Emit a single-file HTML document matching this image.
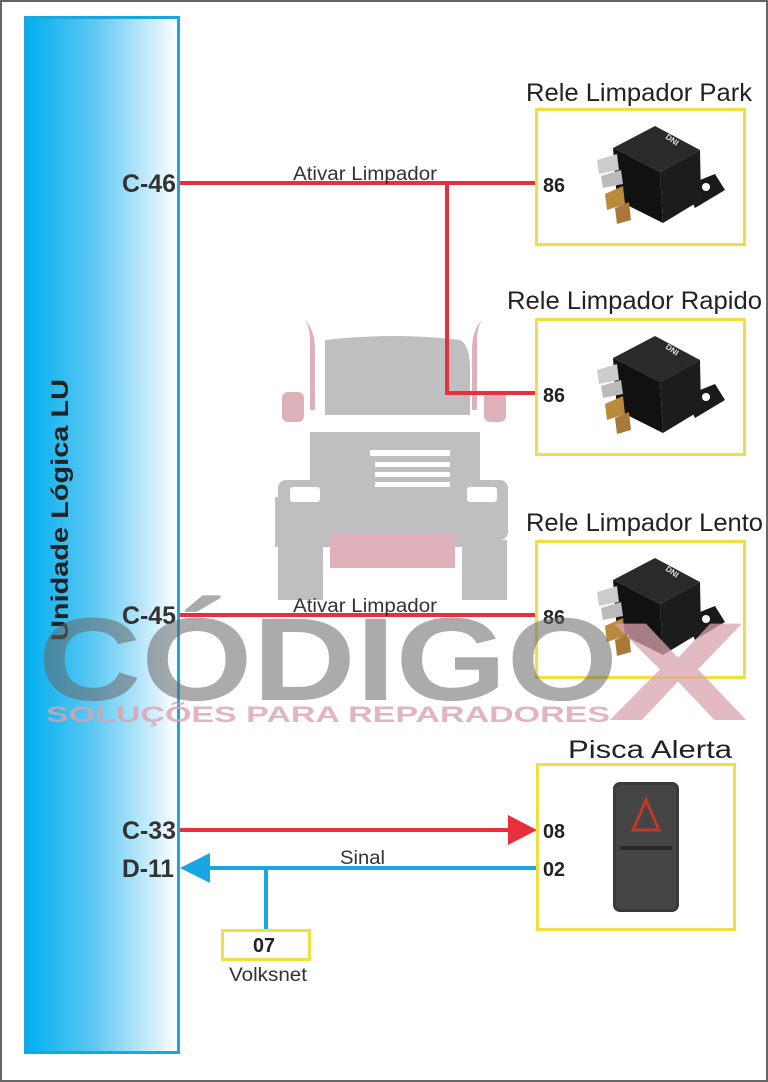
<!DOCTYPE html>
<html><head><meta charset="utf-8"><style>
html,body{margin:0;padding:0;background:#fff}
svg{display:block}
text{font-family:"Liberation Sans",sans-serif}
</style></head><body>
<svg width="768" height="1082" viewBox="0 0 768 1082" xmlns="http://www.w3.org/2000/svg">
<defs>
<linearGradient id="bg" x1="0" x2="1" y1="0" y2="0">
<stop offset="0" stop-color="#00aeef"/><stop offset="0.45" stop-color="#5ec8f2"/><stop offset="1" stop-color="#ffffff"/>
</linearGradient>
<g id="relay">
<polygon points="150,78 180,66 190,82 160,100" fill="#1a1a1a"/>
<circle cx="171" cy="79" r="4" fill="#fff"/>
<polygon points="78,40 120,18 165,42 125,64" fill="#2a2a2a"/>
<polygon points="78,40 125,64 128,115 82,92" fill="#111"/>
<polygon points="125,64 165,42 166,92 128,115" fill="#1c1c1c"/>
<polygon points="62,52 82,46 84,62 64,66" fill="#ccc"/>
<polygon points="66,68 86,62 88,76 68,80" fill="#bbb"/>
<polygon points="70,86 88,78 90,96 72,102" fill="#b98a3c"/>
<polygon points="80,100 94,94 96,112 82,116" fill="#a9783a"/>
<text x="130" y="30" font-size="8" fill="#ddd" font-weight="bold" transform="rotate(35 130 30)">DNI</text>
</g>
</defs>
<rect x="1" y="1" width="766" height="1080" fill="#fff" stroke="#666" stroke-width="2"/>

<g opacity="0.85">
<path d="M305 320 q10 10 10 30 v60 h-5 v-70 q0-12-5-20z" fill="#d9a3ad"/>
<path d="M482 320 q-10 10 -10 30 v60 h5 v-70 q0-12 5-20z" fill="#d9a3ad"/>
<rect x="282" y="392" width="22" height="30" rx="6" fill="#d9a3ad"/>
<rect x="484" y="392" width="22" height="30" rx="6" fill="#d9a3ad"/>
<path d="M325 340 q70 -8 135 0 q10 5 10 30 v45 h-145z" fill="#b4b4b8"/>
<path d="M310 432 h170 v65 h20 v50 h-225 v-50 h35z" fill="#b4b4b8"/>
<rect x="278" y="480" width="230" height="60" rx="8" fill="#b4b4b8"/>
<rect x="330" y="533" width="125" height="35" fill="#d9a3ad"/>
<rect x="278" y="540" width="45" height="60" fill="#b4b4b8"/>
<rect x="462" y="540" width="45" height="60" fill="#b4b4b8"/>
<rect x="370" y="450" width="80" height="6" fill="#fff"/>
<rect x="375" y="462" width="75" height="5" fill="#fff"/>
<rect x="375" y="472" width="75" height="5" fill="#fff"/>
<rect x="375" y="482" width="75" height="5" fill="#fff"/>
<rect x="290" y="487" width="30" height="15" rx="3" fill="#fff"/>
<rect x="467" y="487" width="30" height="15" rx="3" fill="#fff"/>
</g>

<rect x="25.5" y="17.5" width="153" height="1035" fill="url(#bg)" stroke="#1aa6e0" stroke-width="3"/>
<text transform="translate(68 510) rotate(-90)" text-anchor="middle" font-size="24" font-weight="bold" fill="#222" textLength="262" lengthAdjust="spacingAndGlyphs">Unidade Lógica LU</text>

<g stroke="#e8303a" stroke-width="4" fill="none">
<line x1="180" y1="183" x2="537" y2="183"/>
<polyline points="447,183 447,393 537,393"/>
<line x1="180" y1="615" x2="537" y2="615"/>
<line x1="180" y1="830" x2="512" y2="830"/>
</g>
<polygon points="537,830 508,815 508,845" fill="#e8303a"/>
<g stroke="#1aa6e0" stroke-width="4" fill="none">
<line x1="200" y1="868" x2="537" y2="868"/>
<line x1="266" y1="868" x2="266" y2="930"/>
</g>
<polygon points="180,868 210,853 210,883" fill="#1aa6e0"/>

<g font-size="25" font-weight="bold" fill="#333">
<text x="122" y="192" textLength="54" lengthAdjust="spacingAndGlyphs">C-46</text>
<text x="122" y="624" textLength="54" lengthAdjust="spacingAndGlyphs">C-45</text>
<text x="122" y="839" textLength="54" lengthAdjust="spacingAndGlyphs">C-33</text>
<text x="122" y="877" textLength="52" lengthAdjust="spacingAndGlyphs">D-11</text>
</g>
<g font-size="19" fill="#333">
<text x="293" y="180" textLength="144" lengthAdjust="spacingAndGlyphs">Ativar Limpador</text>
<text x="293" y="612" textLength="144" lengthAdjust="spacingAndGlyphs">Ativar Limpador</text>
<text x="340" y="864" textLength="45" lengthAdjust="spacingAndGlyphs">Sinal</text>
<text x="229" y="981" textLength="78" lengthAdjust="spacingAndGlyphs">Volksnet</text>
</g>

<g fill="none" stroke="#efe040" stroke-width="3">
<rect x="536.5" y="109.5" width="208" height="135"/>
<rect x="536.5" y="319.5" width="208" height="135"/>
<rect x="536.5" y="541.5" width="208" height="136"/>
<rect x="537.5" y="764.5" width="197" height="165"/>
<rect x="222.5" y="930.5" width="87" height="29"/>
</g>
<g font-size="25" fill="#222">
<text x="526" y="101" textLength="226" lengthAdjust="spacingAndGlyphs">Rele Limpador Park</text>
<text x="507" y="309" textLength="255" lengthAdjust="spacingAndGlyphs">Rele Limpador Rapido</text>
<text x="526" y="531" textLength="237" lengthAdjust="spacingAndGlyphs">Rele Limpador Lento</text>
<text x="568" y="758" textLength="164" lengthAdjust="spacingAndGlyphs">Pisca Alerta</text>
</g>
<g font-size="20" font-weight="bold" fill="#222">
<text x="543" y="192" textLength="22" lengthAdjust="spacingAndGlyphs">86</text>
<text x="543" y="402" textLength="22" lengthAdjust="spacingAndGlyphs">86</text>
<text x="543" y="624" textLength="22" lengthAdjust="spacingAndGlyphs">86</text>
<text x="543" y="838" textLength="22" lengthAdjust="spacingAndGlyphs">08</text>
<text x="543" y="876" textLength="22" lengthAdjust="spacingAndGlyphs">02</text>
<text x="253" y="952" textLength="22" lengthAdjust="spacingAndGlyphs">07</text>
</g>

<use href="#relay" x="535" y="108"/>
<use href="#relay" x="535" y="318"/>
<use href="#relay" x="535" y="540"/>

<rect x="613" y="782" width="66" height="130" rx="7" fill="#3a3a3a"/>
<rect x="616" y="785" width="60" height="124" rx="5" fill="#454545"/>
<polygon points="633,830 646,800 659,830" fill="none" stroke="#c0392b" stroke-width="3"/>
<rect x="620" y="846" width="52" height="4" fill="#2a2a2a"/>

<text x="38" y="700" font-size="118" font-weight="bold" fill="#666" fill-opacity="0.55" textLength="580" lengthAdjust="spacingAndGlyphs">CÓDIGO</text>
<text x="608" y="720" font-size="140" font-weight="bold" fill="#d9a3ad" fill-opacity="0.75" textLength="140" lengthAdjust="spacingAndGlyphs">X</text>
<text x="46" y="722" font-size="22" font-weight="bold" fill="#d9a3ad" fill-opacity="0.8" textLength="564" lengthAdjust="spacingAndGlyphs">SOLUÇÕES PARA REPARADORES</text>
</svg>
</body></html>
